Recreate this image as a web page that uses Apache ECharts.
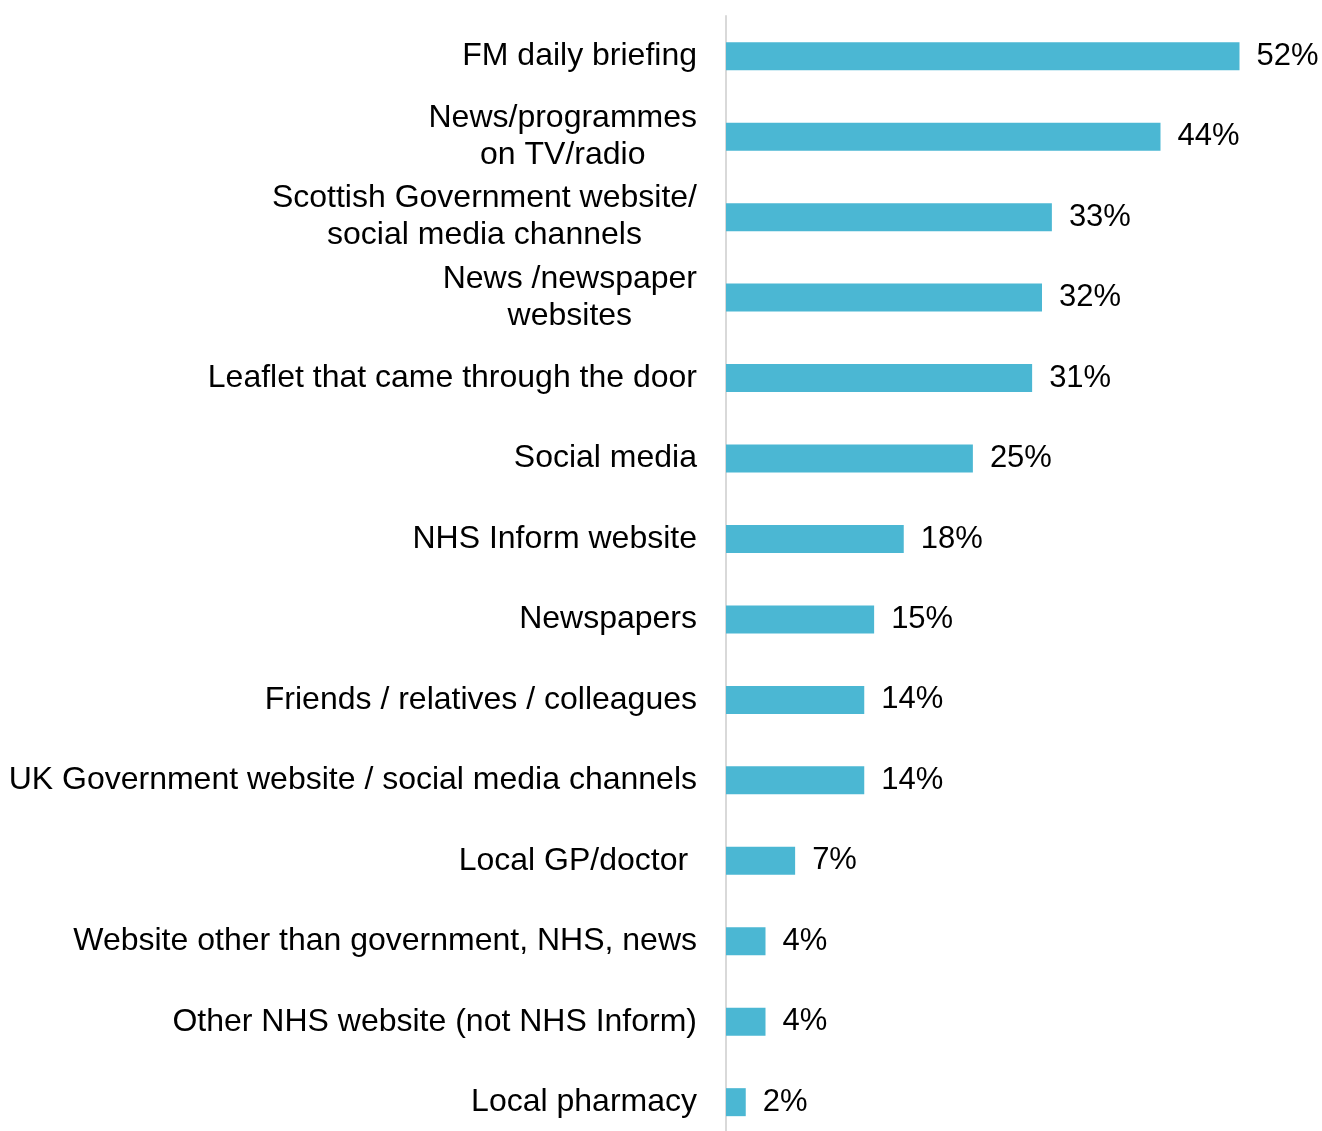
<!DOCTYPE html>
<html>
<head>
<meta charset="utf-8">
<script src="https://cdn.jsdelivr.net/npm/echarts@6/dist/echarts.min.js"></script>
<style>
html,body{margin:0;padding:0;background:#fff;overflow:hidden;}
#chart{width:1322px;height:1160px;}
</style>
</head>
<body>
<div id="chart"></div>
<script>
const categories = [
  "FM daily briefing",
  "News/programmes\non TV/radio",
  "Scottish Government website/\nsocial media channels",
  "News /newspaper\nwebsites",
  "Leaflet that came through the door",
  "Social media",
  "NHS Inform website",
  "Newspapers",
  "Friends / relatives / colleagues",
  "UK Government website / social media channels",
  "Local GP/doctor ",
  "Website other than government, NHS, news",
  "Other NHS website (not NHS Inform)",
  "Local pharmacy"
];
const values = [52, 44, 33, 32, 31, 25, 18, 15, 14, 14, 7, 4, 4, 2];

const chart = echarts.init(document.getElementById('chart'), null, {renderer: 'canvas'});
chart.setOption({
  backgroundColor: '#ffffff',
  animation: false,
  grid: {left: 726, top: 16, width: 592.5, height: 1126.4, containLabel: false},
  xAxis: {
    type: 'value', min: 0, max: 60,
    show: false
  },
  yAxis: {
    type: 'category',
    inverse: true,
    data: categories,
    axisLine: {show: true, lineStyle: {color: '#d9d9d9', width: 2}},
    axisTick: {show: false},
    splitLine: {show: false},
    axisLabel: {
      margin: 29,
      color: '#000000',
      fontFamily: 'Liberation Sans, Arial, sans-serif',
      fontSize: 32,
      lineHeight: 37,
      align: 'right',
      formatter: function (v) {
        return v.split('\n').map(function (s) { return '{c|' + s + '}'; }).join('\n');
      },
      rich: {
        c: {
          align: 'center',
          color: '#000000',
          fontFamily: 'Liberation Sans, Arial, sans-serif',
          fontSize: 32,
          lineHeight: 37
        }
      }
    }
  },
  series: [{
    type: 'bar',
    data: values,
    barWidth: 28,
    itemStyle: {color: '#4BB7D3'},
    label: {
      show: true,
      position: 'right',
      distance: 17,
      formatter: '{c}%',
      color: '#000000',
      fontFamily: 'Liberation Sans, Arial, sans-serif',
      fontSize: 31
    }
  }]
});
</script>
</body>
</html>
